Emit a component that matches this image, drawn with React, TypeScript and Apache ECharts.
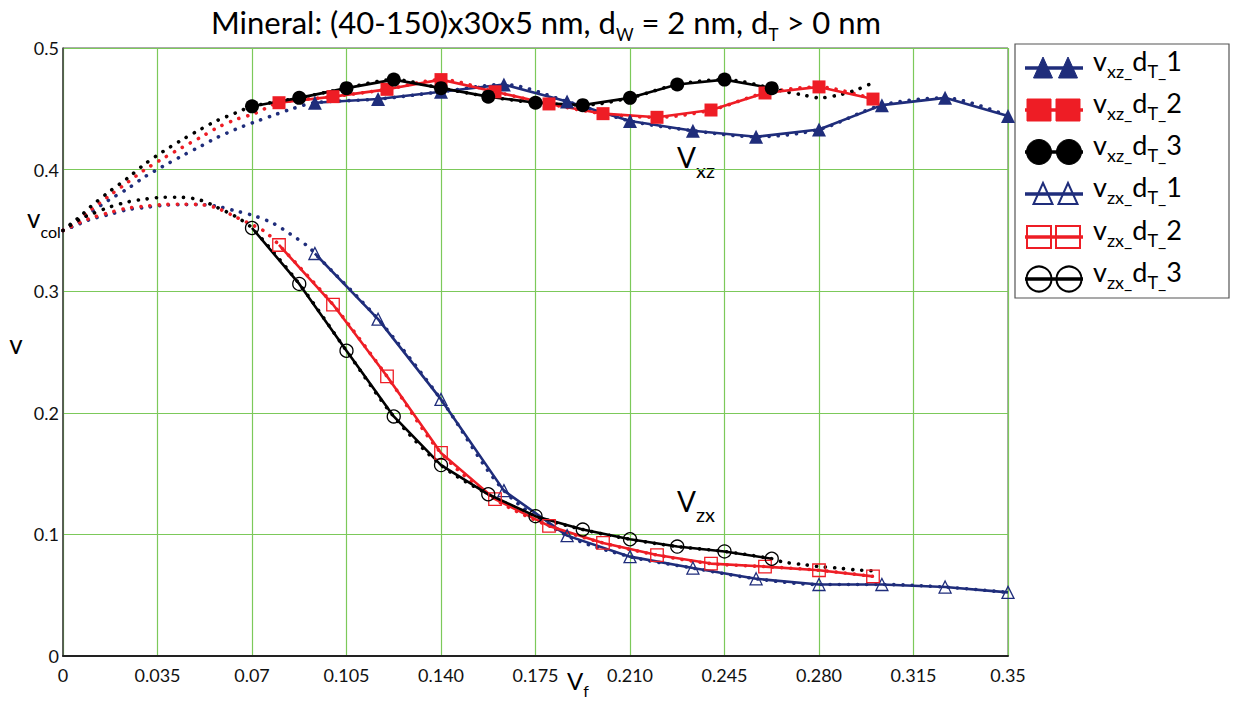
import React, { useEffect, useRef } from "react";
import * as echarts from "echarts";

// Axis tick labels
const xTickLabels = ["0", "0.035", "0.07", "0.105", "0.140", "0.175", "0.210", "0.245", "0.280", "0.315", "0.35"];
const yTickLabels = ["0", "0.1", "0.2", "0.3", "0.4", "0.5"];

// Fibre volume fractions for each d_T family
const vfT1 = [0.0933, 0.1167, 0.14, 0.1633, 0.1867, 0.21, 0.2333, 0.2567, 0.28, 0.3033, 0.3267, 0.35];
const vfT2 = [0.08, 0.1, 0.12, 0.14, 0.16, 0.18, 0.2, 0.22, 0.24, 0.26, 0.28, 0.3];
const vfT3 = [0.07, 0.0875, 0.105, 0.1225, 0.14, 0.1575, 0.175, 0.1925, 0.21, 0.2275, 0.245, 0.2625];

// Poisson ratios nu_xz
const nuXzT1 = [0.455, 0.458, 0.464, 0.47, 0.456, 0.44, 0.432, 0.427, 0.433, 0.453, 0.459, 0.444];
const nuXzT2 = [0.455, 0.46, 0.466, 0.474, 0.464, 0.454, 0.446, 0.443, 0.449, 0.463, 0.468, 0.458];
const nuXzT3 = [0.452, 0.459, 0.467, 0.474, 0.467, 0.46, 0.455, 0.453, 0.459, 0.47, 0.474, 0.467];

// Poisson ratios nu_zx
const nuZxT1 = [0.331, 0.277, 0.211, 0.136, 0.099, 0.0817, 0.0723, 0.0635, 0.0588, 0.0588, 0.0567, 0.0523];
const nuZxT2 = [0.338, 0.289, 0.23, 0.167, 0.129, 0.107, 0.093, 0.083, 0.076, 0.0735, 0.0705, 0.0655];
const nuZxT3 = [0.352, 0.306, 0.251, 0.197, 0.157, 0.133, 0.115, 0.104, 0.096, 0.09, 0.086, 0.08];

// Fitted curves from nu_col at V_f = 0 up to the first computed point
const fitXzT1Lead: [number, number][] = [
  [0, 0.35], [0.0035, 0.3531], [0.0068, 0.3586], [0.0101, 0.3646], [0.017, 0.375], [0.024, 0.3844],
  [0.03, 0.3937], [0.037, 0.4027], [0.044, 0.4112], [0.051, 0.4192], [0.057, 0.4263], [0.064, 0.4332],
  [0.071, 0.4392], [0.078, 0.4447], [0.084, 0.4494],
];
const fitXzT2Lead: [number, number][] = [
  [0, 0.35], [0.0035, 0.3545], [0.0068, 0.3605], [0.0101, 0.3665], [0.017, 0.3783], [0.024, 0.3896],
  [0.03, 0.3995], [0.037, 0.4091], [0.044, 0.4181], [0.051, 0.4266], [0.057, 0.4343], [0.064, 0.4412],
  [0.071, 0.4461],
];
const fitXzT3Lead: [number, number][] = [
  [0, 0.35], [0.0035, 0.3564], [0.0068, 0.3624], [0.0101, 0.3693], [0.017, 0.3816], [0.024, 0.3931],
  [0.03, 0.4041], [0.037, 0.4148], [0.044, 0.4244], [0.051, 0.4332], [0.057, 0.4403], [0.064, 0.4466],
];
const fitZxT1Lead: [number, number][] = [
  [0, 0.35], [0.0068, 0.356], [0.0101, 0.359], [0.017, 0.363], [0.024, 0.3671], [0.03, 0.3687],
  [0.037, 0.3706], [0.044, 0.3712], [0.051, 0.3712], [0.057, 0.3698], [0.064, 0.366], [0.071, 0.3619],
  [0.078, 0.3556], [0.084, 0.3473], [0.091, 0.3364],
];
const fitZxT2Lead: [number, number][] = [
  [0, 0.35], [0.0068, 0.357], [0.0101, 0.36], [0.017, 0.3645], [0.024, 0.3684], [0.03, 0.3698],
  [0.037, 0.3712], [0.044, 0.3715], [0.051, 0.3712], [0.057, 0.3684], [0.064, 0.361], [0.071, 0.3536],
  [0.075, 0.3487],
];
const fitZxT3Lead: [number, number][] = [
  [0, 0.35], [0.0068, 0.36], [0.0101, 0.363], [0.017, 0.369], [0.024, 0.3734], [0.03, 0.3756],
  [0.037, 0.3772], [0.044, 0.3772], [0.051, 0.3748], [0.057, 0.369], [0.064, 0.3613],
];
// Extrapolated tails of the d_T = 3 fits
const fitXzT3Tail: [number, number][] = [
  [0.2665, 0.4645], [0.2734, 0.4617], [0.2802, 0.459], [0.287, 0.4612], [0.2935, 0.4653], [0.3005, 0.4719],
];
const fitZxT3Tail: [number, number][] = [
  [0.2667, 0.0773], [0.2738, 0.0753], [0.2804, 0.0735], [0.287, 0.0723], [0.2937, 0.0708], [0.3003, 0.07],
];

const NAVY = "#1f2d7b";
const RED = "#ee1d25";
const BLACK = "#000000";
const GRID_GREEN = "#7cc95a";
const FONT = "Lato, 'Open Sans', sans-serif";

const pairs = (xs: number[], ys: number[]) => xs.map((x, i) => [x, ys[i]]);

function solidSeries(name: string, xs: number[], ys: number[], color: string, symbol: string, size: number, filled: boolean) {
  return {
    type: "line",
    name,
    data: pairs(xs, ys),
    symbol,
    symbolSize: size,
    showSymbol: true,
    clip: false,
    lineStyle: { color, width: 2.6 },
    itemStyle: filled
      ? { color }
      : { color: "rgba(0,0,0,0)", borderColor: color, borderWidth: 1.3 },
    z: 4,
    silent: true,
  };
}

function fitSeries(lead: [number, number][], xs: number[], ys: number[], tail: [number, number][], color: string) {
  return {
    type: "line",
    data: [...lead, ...pairs(xs, ys), ...tail],
    symbol: "none",
    smooth: 0.3,
    lineStyle: { color, width: 3.6, type: [0.1, 9], cap: "round" },
    z: 3,
    silent: true,
  };
}

function richText(x: number, y: number, text: string, main: number, sub: number, lh: number, align = "left") {
  return {
    type: "text",
    x,
    y,
    silent: true,
    style: {
      text,
      fill: "#000",
      align,
      textAlign: align,
      verticalAlign: "top",
      textVerticalAlign: "top",
      fontFamily: FONT,
      fontSize: main,
      rich: {
        m: { fontFamily: FONT, fontSize: main, lineHeight: lh, fill: "#000", color: "#000" },
        s: { fontFamily: FONT, fontSize: sub, lineHeight: sub, verticalAlign: "bottom", fill: "#000", color: "#000" },
      },
    },
  };
}

function legendElements() {
  const els: any[] = [];
  els.push({
    type: "rect",
    shape: { x: 1015, y: 44, width: 214, height: 254 },
    style: { fill: "#fff", stroke: "#555", lineWidth: 1.2 },
    silent: true,
  });
  const rows = [
    { color: NAVY, kind: "tri", filled: true, idx: "1", sub: "xz_" },
    { color: RED, kind: "rect", filled: true, idx: "2", sub: "xz_" },
    { color: BLACK, kind: "circ", filled: true, idx: "3", sub: "xz_" },
    { color: NAVY, kind: "tri", filled: false, idx: "1", sub: "zx_" },
    { color: RED, kind: "rect", filled: false, idx: "2", sub: "zx_" },
    { color: BLACK, kind: "circ", filled: false, idx: "3", sub: "zx_" },
  ];
  const rowY = [68, 110, 152, 194, 237, 279];
  rows.forEach((r, i) => {
    const cy = rowY[i];
    els.push({
      type: "line",
      shape: { x1: 1025, y1: cy, x2: 1083, y2: cy },
      style: { stroke: r.color, lineWidth: 3.5 },
      silent: true,
    });
    const style = r.filled
      ? { fill: r.color, stroke: r.color, lineWidth: 1 }
      : { fill: "none", stroke: r.color, lineWidth: 2 };
    if (r.kind === "tri") {
      [1043, 1068].forEach((cx) =>
        els.push({
          type: "polygon",
          shape: { points: [[cx, cy - 11], [cx - 9.5, cy + 10], [cx + 9.5, cy + 10]] },
          style,
          silent: true,
        })
      );
    } else if (r.kind === "rect") {
      [1039, 1068].forEach((cx) =>
        els.push({
          type: "rect",
          shape: { x: cx - 12, y: cy - 11, width: 24, height: 22 },
          style,
          silent: true,
        })
      );
    } else {
      [1039, 1069].forEach((cx) =>
        els.push({ type: "circle", shape: { cx, cy, r: 12.5 }, style, silent: true })
      );
    }
    els.push(richText(1093, cy - 27.5, `{m|v}{s|${r.sub}}{m|d}{s|T_}{m|${r.idx}}`, 27, 18, 39));
  });
  return els;
}

export default function App() {
  const ref = useRef<HTMLDivElement>(null);

  useEffect(() => {
    if (!ref.current) return;
    const chart = echarts.init(ref.current, undefined, { renderer: "svg" });
    chart.setOption({
      animation: false,
      backgroundColor: "#fff",
      grid: { left: 63, right: 230, top: 48, bottom: 46, show: true, borderColor: "#555", borderWidth: 1 },
      xAxis: {
        type: "value",
        min: 0,
        max: 0.35,
        interval: 0.035,
        axisLine: { show: true, onZero: false, lineStyle: { color: "#222", width: 2 } },
        axisTick: { show: false },
        axisLabel: {
          formatter: (v: number) => xTickLabels[Math.round(v / 0.035)] ?? "",
          fontFamily: FONT,
          fontSize: 18,
          color: "#111",
          margin: 10,
        },
        splitLine: { show: true, lineStyle: { color: GRID_GREEN, width: 1.2 } },
      },
      yAxis: {
        type: "value",
        min: 0,
        max: 0.5,
        interval: 0.1,
        axisLine: { show: true, lineStyle: { color: "#444", width: 1.5 } },
        axisTick: { show: false },
        axisLabel: {
          formatter: (v: number) => yTickLabels[Math.round(v / 0.1)] ?? "",
          fontFamily: FONT,
          fontSize: 18,
          color: "#111",
          margin: 4,
        },
        splitLine: { show: true, lineStyle: { color: GRID_GREEN, width: 1.2 } },
      },
      series: [
        fitSeries(fitXzT1Lead, vfT1, nuXzT1, [], NAVY),
        fitSeries(fitXzT2Lead, vfT2, nuXzT2, [], RED),
        fitSeries(fitXzT3Lead, vfT3, nuXzT3, fitXzT3Tail, BLACK),
        fitSeries(fitZxT1Lead, vfT1, nuZxT1, [], NAVY),
        fitSeries(fitZxT2Lead, vfT2, nuZxT2, [], RED),
        fitSeries(fitZxT3Lead, vfT3, nuZxT3, fitZxT3Tail, BLACK),
        solidSeries("v_xz_d_T_1", vfT1, nuXzT1, NAVY, "triangle", 14, true),
        solidSeries("v_xz_d_T_2", vfT2, nuXzT2, RED, "rect", 13, true),
        solidSeries("v_xz_d_T_3", vfT3, nuXzT3, BLACK, "circle", 14, true),
        solidSeries("v_zx_d_T_1", vfT1, nuZxT1, NAVY, "triangle", 12, false),
        solidSeries("v_zx_d_T_2", vfT2, nuZxT2, RED, "rect", 12.5, false),
        solidSeries("v_zx_d_T_3", vfT3, nuZxT3, BLACK, "circle", 13, false),
      ],
      graphic: [
        richText(546, 1, "{m|Mineral: (40-150)x30x5 nm, d}{s|W}{m| = 2 nm, d}{s|T}{m| > 0 nm}", 31, 17, 42, "center"),
        richText(677, 134, "{m|V}{s|xz}", 28, 20, 46),
        richText(677, 478, "{m|V}{s|zx}", 28, 20, 46),
        richText(27, 197, "{m|v}{s|col}", 26, 16, 42),
        richText(567, 662, "{m|V}{s|f}", 24, 16, 36),
        {
          type: "text",
          x: 16,
          y: 344,
          silent: true,
          style: {
            text: "v",
            fill: "#000",
            align: "center",
            textAlign: "center",
            verticalAlign: "middle",
            textVerticalAlign: "middle",
            fontFamily: FONT,
            fontSize: 26,
          },
        },
        ...legendElements(),
      ],
    });
    return () => chart.dispose();
  }, []);

  return (
    <div
      ref={ref}
      style={{ position: "absolute", left: 0, top: 0, width: 1238, height: 702, background: "#fff" }}
    />
  );
}
